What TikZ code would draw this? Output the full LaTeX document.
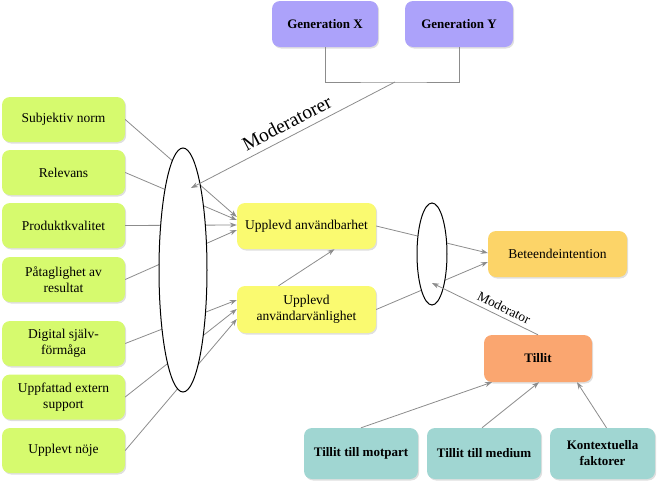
\documentclass[tikz,border=0pt]{standalone}
\usepackage{fontspec}
\setmainfont{Liberation Serif}
\usetikzlibrary{arrows.meta, shapes.geometric, shadows}

\definecolor{boxgreen}{RGB}{214,250,110}
\definecolor{boxyellow}{RGB}{250,250,112}
\definecolor{boxpurple}{RGB}{172,162,250}
\definecolor{boxorange}{RGB}{252,212,104}
\definecolor{boxsalmon}{RGB}{250,166,112}
\definecolor{boxteal}{RGB}{160,214,210}
\definecolor{linegray}{RGB}{140,140,140}

\begin{document}
\begin{tikzpicture}[x=1pt, y=-1pt, >={Stealth[length=7pt, width=5pt]}, font=\fontsize{13.5}{16}\selectfont,
  box/.style={rounded corners=8pt, align=center, inner sep=2pt,
    drop shadow={shadow xshift=1.2pt, shadow yshift=-1.5pt, opacity=0.25}},
  leftbox/.style={box, fill=boxgreen, minimum width=123pt, minimum height=45pt},
  midbox/.style={box, fill=boxyellow, minimum width=139pt, minimum height=46pt},
  genbox/.style={box, fill=boxpurple, minimum height=46pt, font=\fontsize{13}{16}\selectfont\bfseries},
  trustbox/.style={box, fill=boxteal, minimum height=51pt, font=\fontsize{13}{16}\selectfont\bfseries},
  con/.style={draw=linegray, line width=0.8pt},
  oval/.style={ellipse, draw=black, fill=white, line width=1pt, inner sep=0pt}]

\useasboundingbox (0,0) rectangle (657,485);

% left side
\node[leftbox] (subj) at (63.5,119.5) {Subjektiv norm};
\node[leftbox] (rel) at (63.5,172.5) {Relevans};
\node[leftbox] (prod) at (63.5,225.5) {Produktkvalitet};
\node[leftbox] (pat) at (63.5,279.5) {Påtaglighet av\\resultat};
\node[leftbox] (dig) at (63.5,343.5) {Digital själv-\\förmåga};
\node[leftbox] (ext) at (63.5,397) {Uppfattad extern\\support};
\node[leftbox] (noje) at (63.5,450.5) {Upplevt nöje};

\node[midbox] (anv) at (306.5,226) {Upplevd användbarhet};
\node[midbox, minimum height=47pt] (van) at (306.5,309.5) {Upplevd\\användarvänlighet};

\draw[con, ->] (subj.east) -- ([yshift=9pt]anv.west);
\draw[con, ->] (rel.east) -- ([yshift=6pt]anv.west);
\draw[con, ->] (prod.east) -- ([yshift=1pt]anv.west);
\draw[con, ->] (pat.east) -- ([yshift=-4pt]anv.west);
\draw[con, ->] (dig.east) -- ([yshift=9.5pt]van.west);
\draw[con, ->] (ext.east) -- ([yshift=0.5pt]van.west);
\draw[con, ->] (noje.east) -- ([yshift=-9.5pt]van.west);

\node[oval, minimum width=48pt, minimum height=244pt] (ovalL) at (183,270) {};

% moderators
\node[genbox, minimum width=106pt] (genx) at (325,24) {Generation X};
\node[genbox, minimum width=108pt] (geny) at (459,24) {Generation Y};
\coordinate (brk) at (395,82);
\coordinate (modL) at (191,188);
\draw[con] (genx.south) |- (brk) -| (geny.south);
\draw[con, <-] (modL) -- (brk) node[midway, above=3pt, sloped, font=\fontsize{19.5}{22}\selectfont] {Moderatorer};

% right side
\node[box, fill=boxorange, minimum width=139pt, minimum height=46pt] (bet) at (557.5,254) {Beteendeintention};
\draw[con, ->] ([xshift=-28pt]van.north) -- ([xshift=28pt]anv.south);
\draw[con, ->] (anv.east) -- ([yshift=1pt]bet.west);
\draw[con, ->] (van.east) -- ([yshift=-8pt]bet.west);

\node[oval, minimum width=30pt, minimum height=102pt] (ovalR) at (432,254) {};

\node[box, fill=boxsalmon, minimum width=108pt, minimum height=47pt, font=\fontsize{13}{16}\selectfont\bfseries] (tillit) at (538,358.5) {Tillit};
\coordinate (modR) at (432,283);
\draw[con, <-] (modR) -- (tillit.north) node[pos=0.64, above=1pt, sloped, font=\fontsize{13.5}{16}\selectfont] {Moderator};

\node[trustbox, minimum width=114pt] (motpart) at (361,453.5) {Tillit till motpart};
\node[trustbox, minimum width=114pt] (medium) at (484,453.5) {Tillit till medium};
\node[trustbox, minimum width=105pt] (kontext) at (602.5,453.5) {Kontextuella\\faktorer};

\draw[con, ->] (motpart.north) -- ([xshift=-46pt]tillit.south);
\draw[con, ->] ([xshift=-2pt]medium.north) -- ([xshift=1pt]tillit.south);
\draw[con, ->] ([xshift=4pt]kontext.north) -- ([xshift=39pt]tillit.south);

\end{tikzpicture}
\end{document}
